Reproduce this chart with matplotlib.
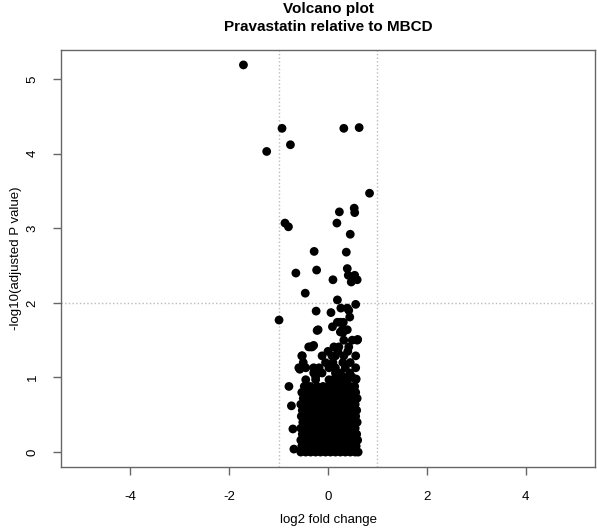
import matplotlib
matplotlib.use('Agg')
import matplotlib.pyplot as plt

plt.rcParams['font.family'] = ['Liberation Sans', 'DejaVu Sans']

# isolated genes (log2 fold change, -log10 adjusted p)
outlier_fc = [-1.71, -0.93, 0.32, 0.63, -1.24, -0.76, 0.84, 0.53, 0.54, 0.23,
              -0.87, -0.80, 0.18, 0.45, -0.28, 0.37, -0.65, -0.23, 0.39, 0.41,
              0.54, 0.10, 0.47, 0.59, -0.46, 0.19, 0.56, -0.24, 0.06, 0.26,
              0.39, 0.42, 0.44, -0.99, 0.19, 0.25, 0.31, 0.09, -0.20, 0.29,
              0.39, 0.60, -0.79, -0.74, -0.71, -0.69, -0.53, -0.57, -0.35, -0.29,
              0.59, 0.57, -0.22, 0.25, 0.30]
outlier_p = [5.19, 4.34, 4.34, 4.35, 4.03, 4.12, 3.47, 3.27, 3.21, 3.22,
             3.07, 3.02, 3.07, 2.92, 2.69, 2.68, 2.40, 2.44, 2.46, 2.37,
             2.37, 2.31, 2.28, 2.31, 2.13, 2.04, 1.98, 1.89, 1.87, 1.93,
             1.93, 1.90, 1.81, 1.77, 1.74, 1.74, 1.74, 1.68, 1.64, 1.64,
             1.64, 1.51, 0.88, 0.62, 0.31, 0.04, 1.29, 1.11, 1.41, 1.43,
             1.50, 0.98, 1.63, 1.61, 1.60]

# bulk of genes near zero, read row by row from the dense cloud
core_rows = {
    0.00: [-0.55, -0.45, -0.35, -0.25, -0.15, -0.05, 0.05, 0.15, 0.25, 0.35, 0.45, 0.55, 0.61],
    0.08: [-0.53, -0.42, -0.31, -0.20, -0.09, 0.02, 0.13, 0.24, 0.35, 0.46, 0.57],
    0.16: [-0.55, -0.45, -0.35, -0.25, -0.14, -0.03, 0.08, 0.19, 0.30, 0.41, 0.52, 0.60],
    0.24: [-0.52, -0.41, -0.30, -0.19, -0.08, 0.03, 0.14, 0.25, 0.36, 0.47, 0.58],
    0.32: [-0.55, -0.44, -0.33, -0.22, -0.11, 0.00, 0.11, 0.22, 0.33, 0.44, 0.55],
    0.40: [-0.51, -0.40, -0.29, -0.18, -0.07, 0.04, 0.15, 0.26, 0.37, 0.48, 0.59],
    0.48: [-0.54, -0.43, -0.32, -0.21, -0.10, 0.01, 0.12, 0.23, 0.34, 0.45, 0.56],
    0.56: [-0.52, -0.41, -0.30, -0.19, -0.08, 0.03, 0.14, 0.25, 0.36, 0.47, 0.58],
    0.64: [-0.55, -0.44, -0.33, -0.22, -0.11, 0.00, 0.11, 0.22, 0.33, 0.44, 0.55],
    0.72: [-0.50, -0.39, -0.28, -0.17, -0.06, 0.05, 0.16, 0.27, 0.38, 0.49, 0.59],
    0.80: [-0.53, -0.42, -0.31, -0.20, -0.09, 0.02, 0.13, 0.24, 0.35, 0.46, 0.56],
    0.88: [-0.48, -0.36, -0.22, -0.10, 0.00, 0.12, 0.23, 0.33, 0.45, 0.54],
    0.97: [-0.45, -0.25, 0.02, 0.10, 0.20, 0.28, 0.40, 0.56],
    1.01: [-0.25, 0.30, 0.48],
    1.06: [-0.29, -0.12, 0.15, 0.25, 0.44],
    1.13: [-0.59, -0.45, -0.29, -0.18, 0.02, 0.15, 0.35, 0.56],
    1.20: [-0.50, -0.05, 0.10, 0.30, 0.45],
    1.29: [-0.52, -0.12, 0.08, 0.15, 0.32, 0.56],
    1.35: [0.00, 0.20, 0.40],
    1.41: [-0.39, -0.32, 0.12, 0.22, 0.42],
    1.50: [0.32, 0.49],
}

core_fc = []
core_p = []
for p, xs in core_rows.items():
    for x in xs:
        core_fc.append(x)
        core_p.append(p)

log2_fc = core_fc + outlier_fc
neg_log10_padj = core_p + outlier_p

fig = plt.figure(figsize=(5.97, 5.32), dpi=100)
ax = fig.add_axes([61 / 597, 1 - 467 / 532, (595 - 61) / 597, (467 - 50) / 532])

ax.scatter(log2_fc, neg_log10_padj, s=40, c='black', edgecolors='none', zorder=3)

ax.axvline(-1, color='#bbbbbb', ls=':', lw=1, zorder=1)
ax.axvline(1, color='#bbbbbb', ls=':', lw=1, zorder=1)
ax.axhline(2, color='#bbbbbb', ls=':', lw=1, zorder=1)

ax.set_xlim(-5.4, 5.4)
ax.set_ylim(-0.2, 5.39)
ax.set_xticks([-4, -2, 0, 2, 4])
ax.set_yticks([0, 1, 2, 3, 4, 5])
ax.set_xticklabels(['-4', '-2', '0', '2', '4'])

for s in ax.spines.values():
    s.set_color('#666666')
    s.set_linewidth(1.0)
ax.tick_params(axis='both', direction='out', length=6, width=1, color='#666666',
               labelsize=9.5, labelcolor='black')
ax.tick_params(axis='x', pad=11)
ax.tick_params(axis='y', pad=10)
for lab in ax.get_yticklabels():
    lab.set_rotation(90)
    lab.set_va('center')

fig.text(328 / 597, 1 - 520 / 532, 'log2 fold change', ha='center', va='center', fontsize=9.5)
fig.text(16 / 597, 1 - 258 / 532, '-log10(adjusted P value)', ha='center', va='center',
         rotation=90, fontsize=9.5)
fig.text(328 / 597, 1 - 9 / 532, 'Volcano plot', ha='center', va='center',
         fontsize=11, fontweight='bold')
fig.text(328 / 597, 1 - 27 / 532, 'Pravastatin relative to MBCD', ha='center', va='center',
         fontsize=11, fontweight='bold')

fig.savefig('out.png', dpi=100)
